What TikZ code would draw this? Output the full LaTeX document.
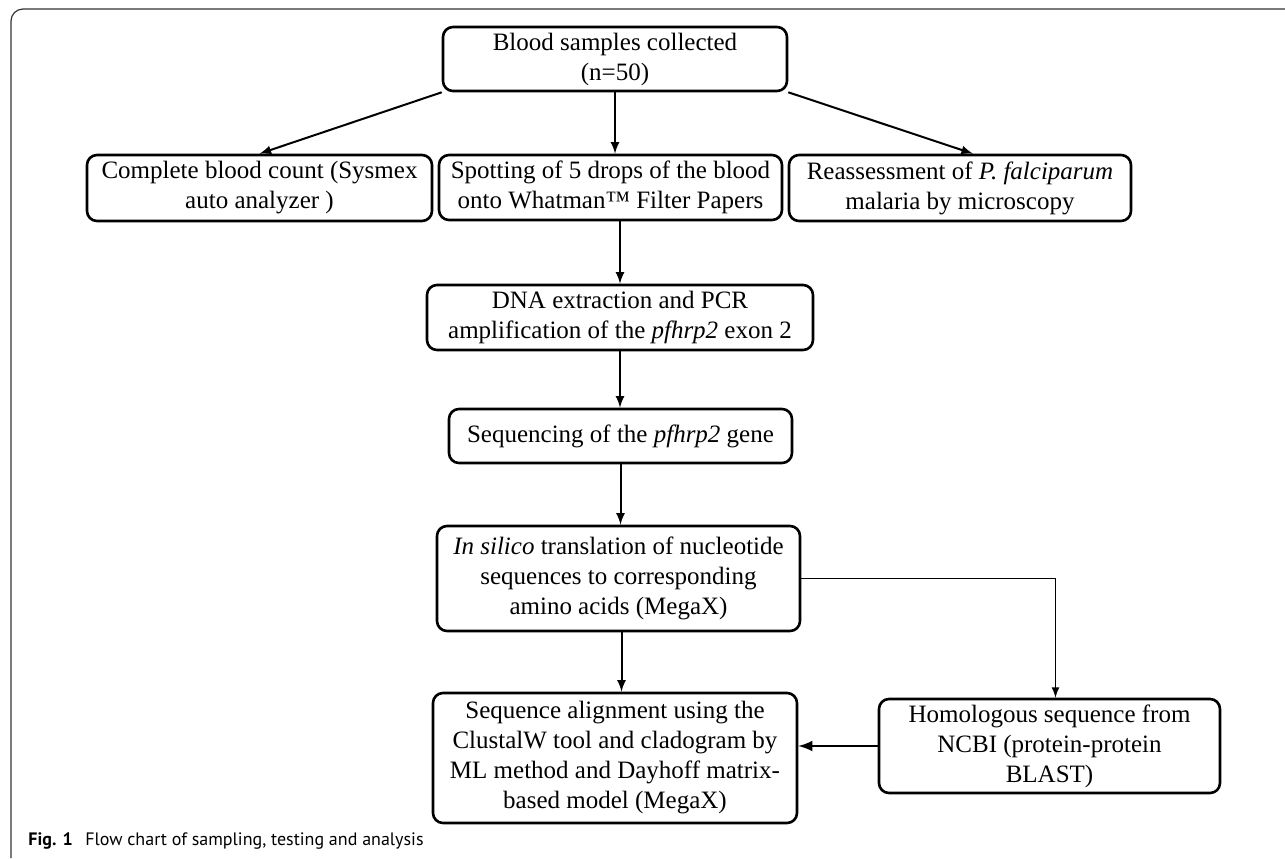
\documentclass[tikz,border=0pt]{standalone}
\usepackage{fontspec}
\setmainfont{Liberation Serif}
\newfontfamily\piefont{PT Sans}
\begin{document}
\begin{tikzpicture}[x=0.5pt,y=-0.5pt,
    caja/.style={draw, line width=1.3pt, rounded corners=5pt, align=center,
        inner sep=0pt, font=\fontsize{12.5}{15}\selectfont},
    flecha/.style={-latex, line width=1pt}]
    \useasboundingbox (0,0) rectangle (1285,858);

    % Marco de la figura
    \draw[black!80, line width=0.6pt, rounded corners=6pt] (1285,9) -- (11,9) -- (11,858);

    % Cajas del diagrama
    \node[caja, minimum width=172pt, minimum height=32pt] (muestras) at (615,59)
        {Blood samples collected\\(n=50)};
    \node[caja, minimum width=172.5pt, minimum height=33pt] (hemograma) at (259.5,188)
        {Complete blood count (Sysmex\\auto analyzer )};
    \node[caja, minimum width=171.5pt, minimum height=32.5pt] (papel) at (610.5,187.5)
        {Spotting of 5 drops of the blood\\onto Whatman™ Filter Papers};
    \node[caja, minimum width=171pt, minimum height=33pt] (microscopia) at (960,188)
        {Reassessment of \textit{P. falciparum}\\malaria by microscopy};
    \node[caja, minimum width=193pt, minimum height=32.5pt] (adn) at (620,317.5)
        {DNA extraction and PCR\\amplification of the \textit{pfhrp2} exon 2};
    \node[caja, minimum width=171.5pt, minimum height=27pt] (secuenciacion) at (620.5,436)
        {Sequencing of the \textit{pfhrp2} gene};
    \node[caja, minimum width=181.5pt, minimum height=52.5pt] (traduccion) at (618.5,578.5)
        {\textit{In silico} translation of nucleotide\\sequences to corresponding\\amino acids (MegaX)};
    \node[caja, minimum width=182pt, minimum height=65pt] (alineamiento) at (615,758)
        {Sequence alignment using the\\ClustalW tool and cladogram by\\ML method and Dayhoff matrix-\\based model (MegaX)};
    \node[caja, minimum width=170.5pt, minimum height=47pt] (homologa) at (1049.5,746)
        {Homologous sequence from\\NCBI (protein-protein\\BLAST)};

    % Flechas
    \draw[flecha] (muestras.south west) -- (hemograma.north);
    \draw[flecha] (muestras.south) -- (muestras.south |- papel.north);
    \draw[flecha] (muestras.south east) -- ([xshift=6.5pt]microscopia.north);
    \draw[flecha] (adn.north |- papel.south) -- (adn.north);
    \draw[flecha] (adn.south) -- (adn.south |- secuenciacion.north);
    \draw[flecha] (secuenciacion.south) -- (secuenciacion.south |- traduccion.north);
    \draw[flecha] ([xshift=1.5pt]traduccion.south) -- ([xshift=1.5pt]traduccion.south |- alineamiento.north);
    \draw[flecha, line width=0.8pt] (traduccion.east) -| ([xshift=3pt]homologa.north);
    \draw[flecha, line width=1.4pt] (homologa.west) -- (homologa.west -| alineamiento.east);

    % Pie de figura
    \node[anchor=base west, inner sep=0pt, font=\piefont\fontsize{9}{11}\selectfont] (pie) at (28,845)
        {\textbf{Fig. 1}\hspace{0.7em}Flow chart of sampling, testing and analysis};
\end{tikzpicture}
\end{document}
